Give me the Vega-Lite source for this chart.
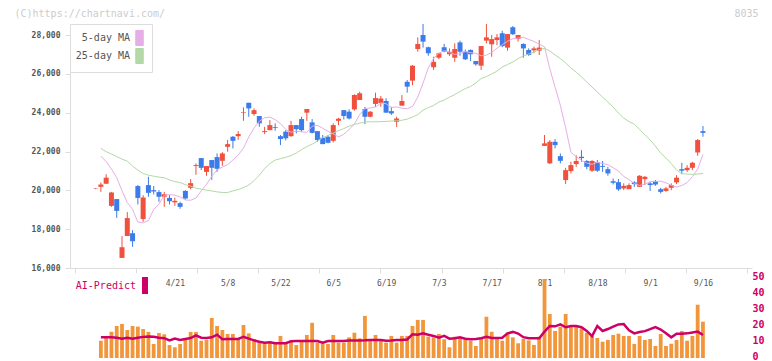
{
 "$schema": "https://vega.github.io/schema/vega-lite/v6.json",
 "width": 682, "height": 334,
 "autosize": "none",
 "padding": {"left": 70, "top": 24, "right": 20, "bottom": 3},
 "background": "#ffffff",
 "config": {"view": {"stroke": null}, "axis": {"grid": false, "labelFont": "DejaVu Sans Mono"}, "legend": {"labelFont": "DejaVu Sans Mono"}},
 "data": {"values": [
{"i":0,"d":"3/31","o":20080,"h":20120,"l":20060,"c":20100,"v":null,"ai":null,"m5":null,"m25":null},
{"i":1,"d":"4/1","o":20180,"h":20410,"l":19920,"c":20300,"v":10.8,"ai":12.9,"m5":21760,"m25":22160},
{"i":2,"d":"4/2","o":20340,"h":20830,"l":20340,"c":20650,"v":12.7,"ai":12.9,"m5":21480,"m25":21990},
{"i":3,"d":"4/3","o":19200,"h":19920,"l":19150,"c":19890,"v":16.4,"ai":12.9,"m5":21100,"m25":21870},
{"i":4,"d":"4/4","o":19550,"h":19550,"l":18580,"c":18940,"v":20,"ai":12.7,"m5":20650,"m25":21740},
{"i":5,"d":"4/7","o":16520,"h":17640,"l":16520,"c":17070,"v":21.3,"ai":12.1,"m5":19980,"m25":21610},
{"i":6,"d":"4/8","o":17650,"h":18880,"l":17650,"c":18570,"v":17.5,"ai":12.7,"m5":19370,"m25":21500},
{"i":7,"d":"4/9","o":17790,"h":17950,"l":17090,"c":17380,"v":20,"ai":12.1,"m5":19020,"m25":21250},
{"i":8,"d":"4/10","o":20220,"h":20270,"l":19270,"c":19610,"v":19.6,"ai":12.7,"m5":18370,"m25":21040},
{"i":9,"d":"4/11","o":18520,"h":19750,"l":18380,"c":19630,"v":18.1,"ai":13.2,"m5":18320,"m25":20870},
{"i":10,"d":"4/14","o":20270,"h":20700,"l":19670,"c":19870,"v":16.3,"ai":13.5,"m5":18450,"m25":20780},
{"i":11,"d":"4/15","o":20010,"h":20220,"l":19790,"c":19940,"v":8.8,"ai":13.3,"m5":19010,"m25":20730},
{"i":12,"d":"4/16","o":19910,"h":20010,"l":19410,"c":19670,"v":15.6,"ai":12.7,"m5":19290,"m25":20680},
{"i":13,"d":"4/17","o":19670,"h":19920,"l":19150,"c":19800,"v":14.8,"ai":12.4,"m5":19750,"m25":20650},
{"i":14,"d":"4/18","o":19610,"h":19750,"l":19270,"c":19440,"v":8.1,"ai":11.0,"m5":19780,"m25":20530},
{"i":15,"d":"4/21","o":19380,"h":19630,"l":19200,"c":19460,"v":6.7,"ai":12.1,"m5":19750,"m25":20450},
{"i":16,"d":"4/22","o":19340,"h":19410,"l":19050,"c":19150,"v":8.8,"ai":11.3,"m5":19660,"m25":20400},
{"i":17,"d":"4/23","o":19970,"h":20010,"l":19530,"c":19580,"v":11.3,"ai":11.9,"m5":19500,"m25":20290},
{"i":18,"d":"4/24","o":20130,"h":20580,"l":20050,"c":20370,"v":16.3,"ai":12.5,"m5":19490,"m25":20220},
{"i":19,"d":"4/25","o":21250,"h":21390,"l":20800,"c":21300,"v":16.3,"ai":14.2,"m5":19600,"m25":20110},
{"i":20,"d":"4/28","o":21660,"h":21660,"l":21040,"c":21160,"v":10.8,"ai":12.7,"m5":19970,"m25":20060},
{"i":21,"d":"4/30","o":20950,"h":21250,"l":20750,"c":21250,"v":11.3,"ai":12.5,"m5":20310,"m25":20010},
{"i":22,"d":"5/1","o":21560,"h":21560,"l":20540,"c":21160,"v":25,"ai":12.9,"m5":20730,"m25":19970},
{"i":23,"d":"5/2","o":21710,"h":21900,"l":20950,"c":21110,"v":20,"ai":14.6,"m5":21050,"m25":19920},
{"i":24,"d":"5/7","o":21520,"h":21970,"l":21260,"c":21900,"v":17.5,"ai":11.7,"m5":21200,"m25":19890},
{"i":25,"d":"5/8","o":22240,"h":22600,"l":21990,"c":22380,"v":15,"ai":11.9,"m5":21320,"m25":19890},
{"i":26,"d":"5/9","o":22760,"h":22800,"l":22160,"c":22550,"v":15,"ai":11.9,"m5":21560,"m25":19970},
{"i":27,"d":"5/12","o":22790,"h":23050,"l":22600,"c":22900,"v":12.3,"ai":11.9,"m5":21820,"m25":20040},
{"i":28,"d":"5/13","o":23990,"h":24270,"l":23580,"c":24020,"v":20.6,"ai":13.3,"m5":22170,"m25":20140},
{"i":29,"d":"5/14","o":24510,"h":24510,"l":23790,"c":24220,"v":15.4,"ai":12.1,"m5":22750,"m25":20270},
{"i":30,"d":"5/15","o":23930,"h":24220,"l":23840,"c":24130,"v":11.9,"ai":11.0,"m5":23210,"m25":20500},
{"i":31,"d":"5/16","o":23830,"h":23830,"l":23270,"c":23450,"v":9.8,"ai":10.2,"m5":23560,"m25":20780},
{"i":32,"d":"5/19","o":23000,"h":23270,"l":22900,"c":23050,"v":9.2,"ai":9.6,"m5":23740,"m25":21120},
{"i":33,"d":"5/20","o":23100,"h":23620,"l":23100,"c":23360,"v":9.2,"ai":9.8,"m5":23770,"m25":21380},
{"i":34,"d":"5/21","o":23260,"h":23450,"l":23070,"c":23220,"v":9.2,"ai":9.2,"m5":23640,"m25":21560},
{"i":35,"d":"5/22","o":22790,"h":22850,"l":22330,"c":22640,"v":13.8,"ai":9.2,"m5":23440,"m25":21630},
{"i":36,"d":"5/23","o":23020,"h":23100,"l":22570,"c":22680,"v":9.2,"ai":9.2,"m5":23140,"m25":21700},
{"i":37,"d":"5/26","o":22790,"h":23580,"l":22760,"c":23360,"v":10.6,"ai":10.4,"m5":22990,"m25":21790},
{"i":38,"d":"5/27","o":23360,"h":23360,"l":22930,"c":23150,"v":8.1,"ai":10.6,"m5":23050,"m25":21920},
{"i":39,"d":"5/28","o":23670,"h":23790,"l":23020,"c":23100,"v":10.6,"ai":10.6,"m5":23010,"m25":22100},
{"i":40,"d":"5/29","o":24000,"h":24190,"l":23580,"c":24190,"v":14.4,"ai":10.6,"m5":22990,"m25":22250},
{"i":41,"d":"5/30","o":23500,"h":23670,"l":22930,"c":22960,"v":22,"ai":10.6,"m5":23300,"m25":22380},
{"i":42,"d":"6/2","o":23050,"h":23050,"l":22500,"c":22590,"v":9.6,"ai":10.6,"m5":23350,"m25":22540},
{"i":43,"d":"6/3","o":22710,"h":22850,"l":22380,"c":22380,"v":9.2,"ai":9.6,"m5":23200,"m25":22720},
{"i":44,"d":"6/4","o":22760,"h":22850,"l":22420,"c":22450,"v":8.8,"ai":10.6,"m5":23040,"m25":22820},
{"i":45,"d":"6/5","o":22550,"h":23450,"l":22470,"c":23360,"v":14.4,"ai":10.6,"m5":22910,"m25":22950},
{"i":46,"d":"6/6","o":23580,"h":23740,"l":23360,"c":23690,"v":9.6,"ai":10.6,"m5":22750,"m25":23080},
{"i":47,"d":"6/9","o":24130,"h":24130,"l":23650,"c":23830,"v":9.6,"ai":10.6,"m5":22890,"m25":23180},
{"i":48,"d":"6/10","o":24050,"h":24170,"l":23650,"c":23700,"v":12.9,"ai":10.9,"m5":23140,"m25":23310},
{"i":49,"d":"6/11","o":24170,"h":24950,"l":24100,"c":24910,"v":15.8,"ai":11.0,"m5":23410,"m25":23390},
{"i":50,"d":"6/12","o":24650,"h":25080,"l":24650,"c":25000,"v":12.3,"ai":11.0,"m5":23900,"m25":23460},
{"i":51,"d":"6/13","o":24190,"h":24300,"l":23410,"c":23790,"v":26.3,"ai":11.1,"m5":24220,"m25":23520},
{"i":52,"d":"6/16","o":23790,"h":24080,"l":23760,"c":24050,"v":11.3,"ai":11.3,"m5":24240,"m25":23530},
{"i":53,"d":"6/17","o":24450,"h":25030,"l":24300,"c":24750,"v":14.4,"ai":11.3,"m5":24290,"m25":23530},
{"i":54,"d":"6/18","o":24500,"h":24860,"l":24300,"c":24730,"v":11.3,"ai":11.3,"m5":24500,"m25":23540},
{"i":55,"d":"6/19","o":24600,"h":24740,"l":24000,"c":24000,"v":9.6,"ai":10.8,"m5":24460,"m25":23550},
{"i":56,"d":"6/20","o":24080,"h":24300,"l":23880,"c":23960,"v":13.8,"ai":10.9,"m5":24260,"m25":23570},
{"i":57,"d":"6/23","o":23530,"h":23790,"l":23270,"c":23700,"v":9.6,"ai":11.3,"m5":24300,"m25":23580},
{"i":58,"d":"6/24","o":24360,"h":24910,"l":24360,"c":24600,"v":13.8,"ai":11.3,"m5":24230,"m25":23610},
{"i":59,"d":"6/25","o":25590,"h":25680,"l":25030,"c":25340,"v":13.8,"ai":11.6,"m5":24200,"m25":23670},
{"i":60,"d":"6/26","o":25650,"h":26450,"l":25420,"c":26420,"v":20,"ai":14.8,"m5":24320,"m25":23770},
{"i":61,"d":"6/27","o":27280,"h":27880,"l":27140,"c":27540,"v":23.8,"ai":14.5,"m5":24800,"m25":23900},
{"i":62,"d":"6/30","o":28000,"h":28570,"l":27350,"c":27660,"v":23.8,"ai":15.4,"m5":25520,"m25":24130},
{"i":63,"d":"7/1","o":27370,"h":27400,"l":26930,"c":27060,"v":13.3,"ai":14.5,"m5":26310,"m25":24260},
{"i":64,"d":"7/2","o":26340,"h":26880,"l":26200,"c":26620,"v":12.9,"ai":13.8,"m5":26800,"m25":24370},
{"i":65,"d":"7/3","o":26830,"h":27090,"l":26750,"c":27060,"v":15,"ai":12.7,"m5":27060,"m25":24550},
{"i":66,"d":"7/4","o":27370,"h":27540,"l":27110,"c":27140,"v":11.7,"ai":13.8,"m5":27190,"m25":24650},
{"i":67,"d":"7/7","o":27010,"h":27310,"l":26920,"c":27140,"v":6.7,"ai":12.1,"m5":27110,"m25":24800},
{"i":68,"d":"7/8","o":26830,"h":27570,"l":26620,"c":27280,"v":13.3,"ai":12.3,"m5":27000,"m25":24930},
{"i":69,"d":"7/9","o":27620,"h":27710,"l":26930,"c":27140,"v":12.9,"ai":12.9,"m5":27050,"m25":25090},
{"i":70,"d":"7/10","o":27140,"h":27250,"l":26710,"c":26750,"v":11.7,"ai":12.0,"m5":27150,"m25":25240},
{"i":71,"d":"7/11","o":27230,"h":27260,"l":26660,"c":27010,"v":10.8,"ai":11.7,"m5":27090,"m25":25350},
{"i":72,"d":"7/14","o":26660,"h":26660,"l":26420,"c":26490,"v":7.5,"ai":11.9,"m5":27060,"m25":25530},
{"i":73,"d":"7/15","o":26420,"h":27430,"l":26200,"c":27430,"v":12.9,"ai":12.4,"m5":26930,"m25":25760},
{"i":74,"d":"7/16","o":27710,"h":28570,"l":27570,"c":27880,"v":25.8,"ai":13.2,"m5":26960,"m25":25860},
{"i":75,"d":"7/17","o":27520,"h":28000,"l":26880,"c":27790,"v":16.4,"ai":12.5,"m5":27110,"m25":25990},
{"i":76,"d":"7/18","o":27740,"h":28050,"l":27480,"c":27880,"v":12.7,"ai":12.5,"m5":27320,"m25":26140},
{"i":77,"d":"7/22","o":28090,"h":28220,"l":27370,"c":27430,"v":10.8,"ai":12.7,"m5":27500,"m25":26350},
{"i":78,"d":"7/23","o":27350,"h":28050,"l":27190,"c":28050,"v":15.8,"ai":15.4,"m5":27680,"m25":26480},
{"i":79,"d":"7/24","o":28400,"h":28460,"l":28000,"c":28040,"v":12.9,"ai":16.3,"m5":27810,"m25":26610},
{"i":80,"d":"7/25","o":27790,"h":28000,"l":27660,"c":28000,"v":9.2,"ai":15.3,"m5":27840,"m25":26790},
{"i":81,"d":"7/28","o":27540,"h":27570,"l":26830,"c":27310,"v":12,"ai":13.0,"m5":27880,"m25":26920},
{"i":82,"d":"7/29","o":27230,"h":27310,"l":26930,"c":26970,"v":11,"ai":12.3,"m5":27770,"m25":27020},
{"i":83,"d":"7/30","o":27210,"h":27400,"l":27060,"c":27310,"v":8.2,"ai":12.3,"m5":27670,"m25":27120},
{"i":84,"d":"7/31","o":27190,"h":27740,"l":26970,"c":27350,"v":13.3,"ai":12.4,"m5":27530,"m25":27250},
{"i":85,"d":"8/1","o":22290,"h":22850,"l":22290,"c":22420,"v":49.4,"ai":16.5,"m5":27390,"m25":27310},
{"i":86,"d":"8/4","o":21390,"h":22590,"l":21350,"c":22500,"v":27.5,"ai":20,"m5":26270,"m25":27180},
{"i":87,"d":"8/5","o":22500,"h":22640,"l":22160,"c":22330,"v":16.9,"ai":19.8,"m5":25310,"m25":26970},
{"i":88,"d":"8/6","o":21760,"h":21900,"l":21390,"c":21520,"v":19.6,"ai":21,"m5":24380,"m25":26790},
{"i":89,"d":"8/7","o":20530,"h":21160,"l":20320,"c":21040,"v":27.5,"ai":19.2,"m5":23220,"m25":26560},
{"i":90,"d":"8/8","o":20990,"h":21470,"l":20870,"c":21300,"v":19.6,"ai":20,"m5":21960,"m25":26300},
{"i":91,"d":"8/12","o":21350,"h":21810,"l":21210,"c":21510,"v":19.6,"ai":20,"m5":21740,"m25":26090},
{"i":92,"d":"8/13","o":21730,"h":22070,"l":21470,"c":21660,"v":18.5,"ai":19.2,"m5":21540,"m25":25840},
{"i":93,"d":"8/14","o":21510,"h":21560,"l":21090,"c":21210,"v":15.8,"ai":16.9,"m5":21410,"m25":25580},
{"i":94,"d":"8/15","o":21010,"h":21560,"l":20950,"c":21510,"v":13.8,"ai":13.7,"m5":21340,"m25":25320},
{"i":95,"d":"8/18","o":21450,"h":21560,"l":20950,"c":21010,"v":12.5,"ai":20,"m5":21440,"m25":25060},
{"i":96,"d":"8/19","o":21260,"h":21510,"l":20950,"c":21210,"v":10.2,"ai":16.9,"m5":21380,"m25":24800},
{"i":97,"d":"8/20","o":21090,"h":21210,"l":20750,"c":20870,"v":11.3,"ai":18.1,"m5":21320,"m25":24550},
{"i":98,"d":"8/21","o":20470,"h":20610,"l":20300,"c":20390,"v":14.4,"ai":19.6,"m5":21160,"m25":24290},
{"i":99,"d":"8/22","o":20420,"h":20580,"l":19970,"c":20050,"v":15.2,"ai":21,"m5":21000,"m25":23980},
{"i":100,"d":"8/25","o":20100,"h":20360,"l":20010,"c":20230,"v":13.8,"ai":21.2,"m5":20710,"m25":23720},
{"i":101,"d":"8/26","o":20060,"h":20360,"l":20060,"c":20270,"v":13.8,"ai":17.3,"m5":20550,"m25":23540},
{"i":102,"d":"8/27","o":20410,"h":20470,"l":20180,"c":20320,"v":8.8,"ai":15.4,"m5":20360,"m25":23410},
{"i":103,"d":"8/28","o":20180,"h":20780,"l":20180,"c":20750,"v":13.8,"ai":16.2,"m5":20250,"m25":23130},
{"i":104,"d":"8/29","o":20580,"h":20730,"l":20270,"c":20700,"v":11.3,"ai":16.8,"m5":20320,"m25":22870},
{"i":105,"d":"9/1","o":20360,"h":20440,"l":19970,"c":20270,"v":11.9,"ai":18,"m5":20450,"m25":22590},
{"i":106,"d":"9/2","o":20470,"h":20530,"l":20230,"c":20300,"v":7.5,"ai":19.3,"m5":20460,"m25":22280},
{"i":107,"d":"9/3","o":20060,"h":20130,"l":19840,"c":19920,"v":15,"ai":17.8,"m5":20470,"m25":21920},
{"i":108,"d":"9/4","o":19970,"h":20180,"l":19920,"c":20100,"v":7.5,"ai":15.4,"m5":20390,"m25":21660},
{"i":109,"d":"9/5","o":20130,"h":20360,"l":20010,"c":20270,"v":8.9,"ai":12.9,"m5":20260,"m25":21380},
{"i":110,"d":"9/8","o":20410,"h":20780,"l":20320,"c":20650,"v":11.3,"ai":15.2,"m5":20170,"m25":21040},
{"i":111,"d":"9/9","o":21090,"h":21420,"l":20830,"c":21010,"v":16.9,"ai":15.2,"m5":20250,"m25":20860},
{"i":112,"d":"9/10","o":21040,"h":21300,"l":20950,"c":21160,"v":10.8,"ai":15.4,"m5":20400,"m25":20840},
{"i":113,"d":"9/11","o":21160,"h":21470,"l":21040,"c":21420,"v":13.8,"ai":16,"m5":20700,"m25":20820},
{"i":114,"d":"9/12","o":21950,"h":22640,"l":21780,"c":22590,"v":33.3,"ai":16.5,"m5":21100,"m25":20840},
{"i":115,"d":"9/16","o":23050,"h":23310,"l":22760,"c":22960,"v":22.7,"ai":14.4,"m5":21850,"m25":20870}
 ]},
 "layer": [
  {
   "encoding": {"x": {"field": "i", "type": "quantitative", "scale": {"domain": [-3.9, 123.34], "nice": false, "zero": false},
     "axis": {"values": [-3.89, 7.67, 19.24, 30.8, 42.37, 53.94, 65.5, 77.07, 88.64, 100.21, 111.77, 123.33], "labels": false, "offset": -90, "domainColor": "#dddddd", "tickColor": "#dddddd", "tickSize": 5, "title": null, "grid": false}}},
   "layer": [
    {"mark": {"type": "rule", "strokeWidth": 1},
     "encoding": {
      "y": {"field": "l", "type": "quantitative", "scale": {"domain": [16000, 28567], "range": [244, 0], "nice": false, "zero": false},
        "axis": {"orient": "left", "values": [16000, 18000, 20000, 22000, 24000, 26000, 28000], "domainColor": "#dddddd", "tickColor": "#dddddd", "tickSize": 5, "labelFontSize": 8, "labelFontWeight": "bold", "labelColor": "#555555", "labelPadding": 5, "grid": false,
          "title": "(C)https://chartnavi.com/", "titleAngle": 0, "titleX": -56, "titleY": -8, "titleAlign": "left", "titleBaseline": "alphabetic", "titleColor": "#cccccc", "titleFont": "DejaVu Sans Mono", "titleFontSize": 10, "titleFontWeight": "normal"}},
      "y2": {"field": "h"},
      "color": {"condition": {"test": "datum.c >= datum.o", "value": "#f0503c"}, "value": "#3b7bea"}}},
    {"mark": {"type": "bar", "size": 5},
     "encoding": {
      "y": {"field": "o", "type": "quantitative"},
      "y2": {"field": "c"},
      "color": {"condition": {"test": "datum.c >= datum.o", "value": "#f0503c"}, "value": "#3b7bea"}}},
    {"mark": {"type": "line", "strokeWidth": 1},
     "encoding": {
      "y": {"field": "m5", "type": "quantitative"},
      "color": {"datum": "5-day MA", "type": "nominal",
        "scale": {"domain": ["5-day MA", "25-day MA"], "range": ["#e6aee6", "#b2d9a6"]},
        "legend": {"orient": "none", "legendX": 0, "legendY": 0, "title": null, "direction": "vertical",
          "symbolType": "M-0.5,-1H0.5V1H-0.5Z", "symbolSize": 225, "labelFontSize": 10, "labelColor": "#555555",
          "padding": 6, "rowPadding": -4,
          "strokeColor": "#dddddd", "fillColor": "#ffffff",
          "encode": {
            "symbols": {"update": {"x": {"value": 63.5}, "fill": {"scale": "color", "field": "value"}, "stroke": {"value": "#555555"}, "strokeWidth": {"value": 1}, "opacity": {"value": 1}}},
            "labels": {"update": {"x": {"value": 54}, "align": {"value": "right"}}}}}}}},
    {"mark": {"type": "line", "strokeWidth": 1},
     "encoding": {
      "y": {"field": "m25", "type": "quantitative"},
      "color": {"datum": "25-day MA", "type": "nominal"}}}
   ]
  },
  {
   "encoding": {"x": {"field": "i", "type": "quantitative", "scale": {"domain": [-3.9, 123.34], "nice": false, "zero": false},
     "axis": {"orient": "top", "values": [15, 25, 35, 45, 55, 65, 75, 85, 95, 105, 115], "labelExpr": "['4/21','5/8','5/22','6/5','6/19','7/3','7/17','8/1','8/18','9/1','9/16'][round((datum.value-15)/10)]", "domain": false, "ticks": false, "tickSize": 0, "offset": -263, "labelPadding": 0, "labelFontSize": 8, "labelColor": "#555555", "labelFlush": false, "title": null, "grid": false}}},
   "layer": [
    {"mark": {"type": "bar", "size": 3.8, "color": "#f2963c"},
     "encoding": {
      "y": {"field": "v", "type": "quantitative", "scale": {"domain": [0, 50], "range": [334, 254], "nice": false},
        "axis": {"orient": "right", "values": [0, 10, 20, 30, 40, 50], "domain": false, "ticks": false, "labelColor": "#cc0066", "labelFontSize": 10, "labelFontWeight": "bold", "labelPadding": 0, "labelOffset": -1.5, "grid": false,
          "title": "8035", "titleAngle": 0, "titleX": -6, "titleY": -8, "titleAlign": "center", "titleBaseline": "alphabetic", "titleColor": "#cccccc", "titleFont": "DejaVu Sans Mono", "titleFontSize": 10, "titleFontWeight": "normal"}}}},
    {"mark": {"type": "line", "strokeWidth": 2.5},
     "encoding": {
      "y": {"field": "ai", "type": "quantitative"},
      "stroke": {"datum": "AI-Predict", "type": "nominal", "scale": {"range": ["#cc0066"]},
        "legend": {"orient": "none", "legendX": 6, "legendY": 253, "title": null,
          "symbolType": "M-0.35,-1H0.35V1H-0.35Z", "symbolSize": 289, "labelFontSize": 10, "labelColor": "#cc0066", "padding": 0,
          "encode": {
            "symbols": {"update": {"x": {"value": 69}, "fill": {"value": "#cc0066"}, "stroke": {"value": "#cc0066"}, "strokeWidth": {"value": 0}, "opacity": {"value": 1}}},
            "labels": {"update": {"x": {"value": 60}, "align": {"value": "right"}}}}}}}}
   ]
  }
 ],
 "resolve": {"scale": {"y": "independent"}, "axis": {"x": "independent"}}
}
